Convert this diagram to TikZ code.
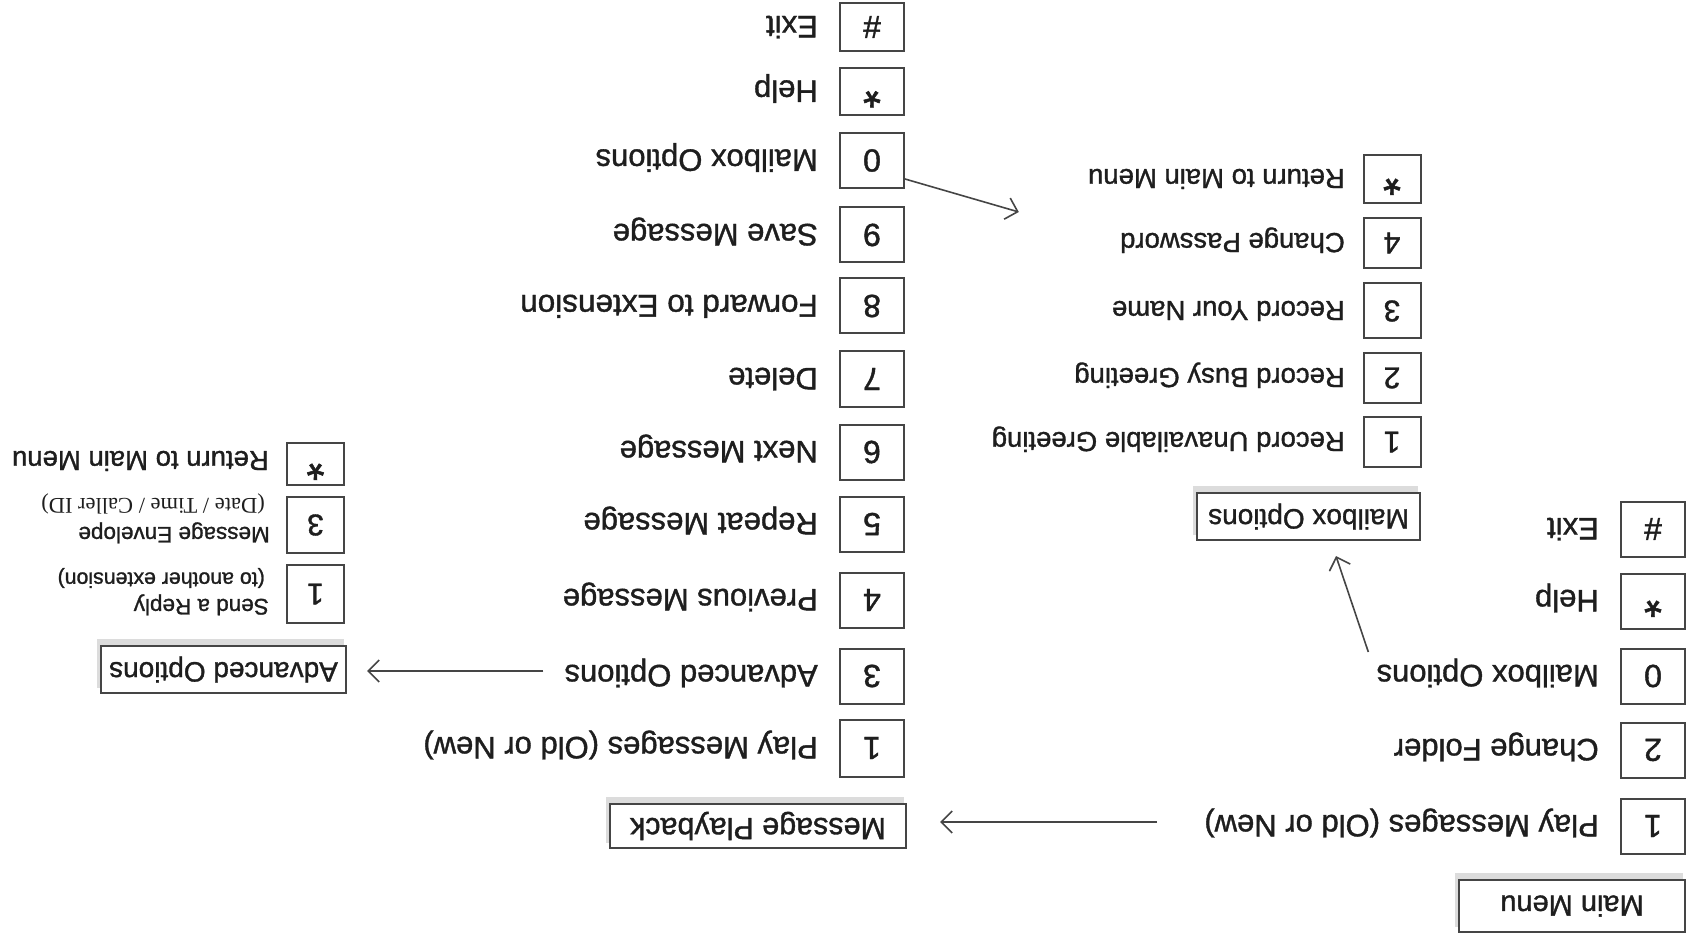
\documentclass[tikz,border=0pt]{standalone}
\usepackage{fontspec}
\setmainfont[FakeBold=1.2]{Liberation Sans}
\newfontfamily\paren{Liberation Serif}
\usetikzlibrary{arrows.meta,backgrounds}
\definecolor{ink}{HTML}{1E1E1E}
\definecolor{edgec}{HTML}{454545}
\definecolor{shadowc}{HTML}{DCDCDC}
\begin{document}
\begin{tikzpicture}[x=1pt,y=-1pt,
  key/.style={draw=edgec, line width=2pt, minimum width=64pt, minimum height=55pt, inner sep=0pt, rotate=180, text=ink, fill=white, font=\fontsize{32}{32}\selectfont},
  skey/.style={key, minimum width=57pt, minimum height=50pt, font=\fontsize{30}{30}\selectfont},
  star/.style={font=\fontsize{46}{46}\selectfont},
  lbl/.style={rotate=180, anchor=west, inner sep=0pt, text=ink, text height=22pt, text depth=0pt, font=\fontsize{31}{36}\selectfont},
  slbl/.style={lbl, text height=19.7pt, font=\fontsize{27.5}{32}\selectfont},
  tlbl/.style={lbl, text height=16pt, font=\fontsize{22.5}{26}\selectfont},
  plbl/.style={lbl, text height=15pt, font=\fontsize{21.3}{24}\selectfont},
  title/.style={draw=edgec, line width=2.2pt, fill=white, rotate=180, inner sep=0pt, text=ink, font=\fontsize{28}{32}\selectfont},
  arr/.style={draw=edgec, line width=1.6pt, -{Straight Barb[length=11pt,width=22pt,line width=1.6pt]}}
]
\useasboundingbox (0,0) rectangle (1687,941);

% ---------- Main menu ----------
\node[title, minimum width=226pt, minimum height=52pt, font=\fontsize{29}{32}\selectfont] (mm) at (1572,906) {Main Menu};
\node[key] (m1) at (1653,826) {1};
\node[key] (m2) at (1653,750) {2};
\node[key] (m0) at (1653,676) {0};
\node[key, star] (mst) at (1653,601) {*};
\node[key] (mh) at (1653,529) {\#};
\node[lbl] (ml1) at (1599,826) {Play Messages (Old or New)};
\node[lbl] (ml2) at (1599,750) {Change Folder};
\node[lbl] (ml0) at (1599,676) {Mailbox Options};
\node[lbl] (mlst) at (1599,601) {Help};
\node[lbl] (mlh) at (1599,529) {Exit};

% ---------- Mailbox options ----------
\node[title, minimum width=223pt, minimum height=47pt] (mbo) at (1308.5,516.5) {Mailbox Options};
\node[skey] (b1) at (1392,442) {1};
\node[skey] (b2) at (1392,378) {2};
\node[skey, minimum height=55pt] (b3) at (1392,311) {3};
\node[skey] (b4) at (1392,243) {4};
\node[skey, star, minimum height=48pt] (bst) at (1392,179) {*};
\node[slbl] (bl1) at (1345,442) {Record Unavailable Greeting};
\node[slbl] (bl2) at (1345,378) {Record Busy Greeting};
\node[slbl] (bl3) at (1345,311) {Record Your Name};
\node[slbl] (bl4) at (1345,243) {Change Password};
\node[slbl] (blst) at (1345,179) {Return to Main Menu};

% ---------- Message playback ----------
\node[title, minimum width=296pt, minimum height=44pt, font=\fontsize{30.5}{32}\selectfont] (mpb) at (758,826) {Message Playback};
\node[key, minimum height=57pt] (p1) at (872,748) {1};
\node[key] (p3) at (872,676) {3};
\node[key] (p4) at (872,600) {4};
\node[key] (p5) at (872,524) {5};
\node[key] (p6) at (872,452) {6};
\node[key] (p7) at (872,379) {7};
\node[key] (p8) at (872,306) {8};
\node[key] (p9) at (872,235) {9};
\node[key] (p0) at (872,160.5) {0};
\node[key, star, minimum height=47pt] (pst) at (872,91.5) {*};
\node[key, minimum height=48pt] (ph) at (872,27) {\#};
\node[lbl] (pl1) at (818,748) {Play Messages (Old or New)};
\node[lbl] (pl3) at (818,676) {Advanced Options};
\node[lbl] (pl4) at (818,600) {Previous Message};
\node[lbl] (pl5) at (818,524) {Repeat Message};
\node[lbl] (pl6) at (818,452) {Next Message};
\node[lbl] (pl7) at (818,379) {Delete};
\node[lbl, font=\fontsize{31.5}{36}\selectfont] (pl8) at (818,306) {Forward to Extension};
\node[lbl] (pl9) at (818,235) {Save Message};
\node[lbl] (pl0) at (818,160.5) {Mailbox Options};
\node[lbl] (plst) at (818,91.5) {Help};
\node[lbl] (plh) at (818,27) {Exit};

% ---------- Advanced options ----------
\node[title, minimum width=245pt, minimum height=47pt] (ado) at (223.5,669.5) {Advanced Options};
\node[skey, minimum height=58pt] (a1) at (315.5,594) {1};
\node[skey, minimum height=56pt] (a3) at (315.5,525) {3};
\node[skey, star, minimum height=42pt] (ast) at (315.5,464) {*};
\node[tlbl] (al1) at (269,607) {Send a Reply};
\node[plbl] (al1b) at (265,580) {(to another extension)};
\node[tlbl] (al3) at (270,535) {Message Envelope};
\node[plbl, font=\paren\fontsize{22.5}{26}\selectfont] (al3b) at (265,506) {(Date / Time / Caller ID)};
\node[slbl] (alst) at (269,461) {Return to Main Menu};

% ---------- shadows ----------
\begin{scope}[on background layer]
  \foreach \n in {mm,mbo,mpb,ado}{
    \fill[shadowc] ([shift={(-3,-6)}]\n.north west) rectangle ([shift={(-3,-6)}]\n.south east);
  }
\end{scope}

% ---------- connectors ----------
\draw[arr] ([shift={(-47,-4)}]ml1.east) -- ([shift={(33,-4)}]mpb.west);
\draw[arr] ([shift={(-8,-24)}]ml0.east) -- ([shift={(27.5,15)}]mbo.north);
\draw[arr] ([shift={(-21,-5)}]pl3.east) -- ([shift={(20,1.5)}]ado.west);
\draw[arr] ([shift={(0,18.5)}]p0.west) -- ([shift={(-69,33)}]blst.east);
\end{tikzpicture}
\end{document}
